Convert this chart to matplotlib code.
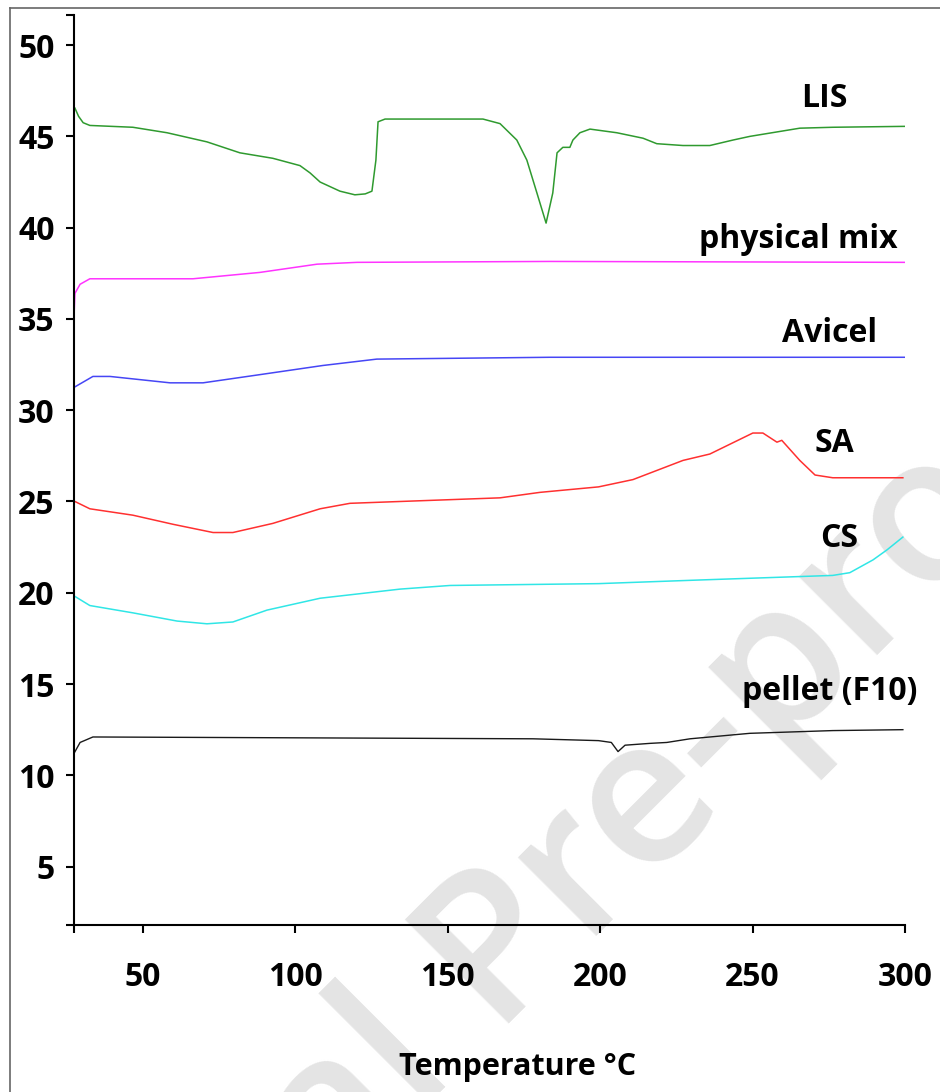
import matplotlib.pyplot as plt
from matplotlib.lines import Line2D

plt.rcParams['font.family'] = ['Open Sans', 'DejaVu Sans']
plt.rcParams['font.weight'] = 'bold'

# DSC traces (temperature °C, heat flow offset)
lis_t = [27.8, 29.0, 30.5, 32.7, 46.8, 58.0, 71.1, 81.9, 92.7, 101.6, 104.9, 108.2, 114.7, 119.6,
         123.0, 125.2, 126.5, 127.2, 129.5, 161.6, 167.2, 172.7, 176.0, 179.3, 182.3, 184.5, 185.9,
         187.8, 190.1, 191.1, 193.4, 196.7, 205.5, 214.1, 218.6, 227.2, 236.0, 243.6, 249.1,
         265.5, 276.3, 300.0]
lis_v = [46.55, 46.1, 45.75, 45.6, 45.5, 45.2, 44.7, 44.1, 43.8, 43.4, 43.0, 42.5, 42.0, 41.8,
         41.85, 42.0, 43.7, 45.8, 45.95, 45.95, 45.7, 44.8, 43.7, 41.9, 40.25, 41.9, 44.1,
         44.4, 44.4, 44.8, 45.2, 45.4, 45.2, 44.9, 44.6, 44.5, 44.5, 44.8, 45.0,
         45.45, 45.5, 45.55]

mix_t = [27.5, 27.8, 29.5, 32.7, 66.5, 88.5, 107.2, 120.3, 183.6, 300.0]
mix_v = [35.1, 36.4, 36.9, 37.2, 37.2, 37.55, 38.0, 38.1, 38.15, 38.1]

avicel_t = [27.5, 33.7, 39.3, 59.0, 69.8, 88.5, 109.1, 126.8, 183.6, 300.0]
avicel_v = [31.25, 31.85, 31.85, 31.5, 31.5, 31.95, 32.45, 32.8, 32.9, 32.9]

sa_t = [27.8, 32.7, 46.8, 60.0, 73.1, 79.6, 92.7, 108.2, 118.0, 150.8, 167.2, 180.3, 199.5,
        210.8, 227.2, 236.0, 250.1, 253.4, 258.0, 259.6, 265.5, 270.5, 276.3, 299.3]
sa_v = [25.0, 24.6, 24.25, 23.75, 23.3, 23.3, 23.8, 24.6, 24.9, 25.1, 25.2, 25.5, 25.8,
        26.2, 27.25, 27.6, 28.75, 28.75, 28.25, 28.35, 27.25, 26.45, 26.3, 26.3]

cs_t = [27.8, 32.7, 46.8, 61.3, 71.1, 79.6, 90.8, 108.2, 134.4, 150.8, 199.5, 232.7, 276.3,
        281.9, 289.5, 294.1, 299.3]
cs_v = [19.8, 19.3, 18.9, 18.45, 18.3, 18.4, 19.05, 19.7, 20.2, 20.4, 20.5, 20.7, 20.95,
        21.1, 21.8, 22.35, 23.05]

pellet_t = [27.5, 29.5, 33.7, 178.0, 199.5, 203.7, 205.9, 208.2, 216.4, 221.9, 229.5, 249.1,
            276.3, 299.3]
pellet_v = [11.2, 11.8, 12.1, 12.0, 11.9, 11.8, 11.3, 11.65, 11.75, 11.8, 12.0, 12.3,
            12.45, 12.5]

names = ['LIS', 'physical mix', 'Avicel', 'SA', 'CS', 'pellet (F10)']
label_t = [273.4, 264.9, 275.4, 277.0, 278.3, 275.4]
label_v = [46.6, 38.9, 33.73, 27.7, 22.5, 14.1]

x_ticks = [50, 100, 150, 200, 250, 300]
y_ticks = [5, 10, 15, 20, 25, 30, 35, 40, 45, 50]

fig = plt.figure(figsize=(9.4, 10.92), dpi=100)

# faint "Journal Pre-proof" watermark behind the plot
fig.text(-0.044, -0.455, 'Journal Pre-proof', rotation=45, rotation_mode='anchor',
         ha='left', va='baseline', fontsize=148, fontweight='semibold',
         color='#e4e4e4', zorder=-5)

# page frame
fig.add_artist(Line2D([10 / 940, 10 / 940], [0, 1 - 8 / 1092], color='#666666', lw=1.2))
fig.add_artist(Line2D([10 / 940, 1], [1 - 8 / 1092, 1 - 8 / 1092], color='#666666', lw=1.2))

ax = fig.add_axes([74 / 940, 1 - 925 / 1092, 831 / 940, 910 / 1092])
ax.patch.set_alpha(0)

ax.plot(lis_t, lis_v, color='#2f9a2f', lw=1.1)
ax.plot(mix_t, mix_v, color='#ff33ff', lw=1.1)
ax.plot(avicel_t, avicel_v, color='#4646f5', lw=1.1)
ax.plot(sa_t, sa_v, color='#ff3030', lw=1.1)
ax.plot(cs_t, cs_v, color='#30e6e6', lw=1.1)
ax.plot(pellet_t, pellet_v, color='#1a1a1a', lw=1.0)

for name, t, v in zip(names, label_t, label_v):
    ax.text(t, v, name, ha='center', va='baseline', fontsize=23, fontweight='bold')

ax.set_xlim(27.5, 300)
ax.set_ylim(1.8, 51.65)
ax.set_xticks(x_ticks)
ax.set_yticks(y_ticks)
ax.set_xticks([27.5], minor=True)
ax.set_yticks([1.8, 51.65], minor=True)

for side in ['top', 'right']:
    ax.spines[side].set_visible(False)
for side in ['left', 'bottom']:
    ax.spines[side].set_linewidth(1.5)

ax.tick_params(axis='both', which='both', direction='out', length=6, width=1.5, labelsize=23)
ax.tick_params(axis='x', pad=20)
ax.tick_params(axis='y', pad=8)

ax.set_xlabel('Temperature °C', fontsize=22, fontweight='bold')
ax.xaxis.set_label_coords(0.534, -0.156)
ax.xaxis.label.set_va('center')

fig.savefig('out.png', dpi=100)
